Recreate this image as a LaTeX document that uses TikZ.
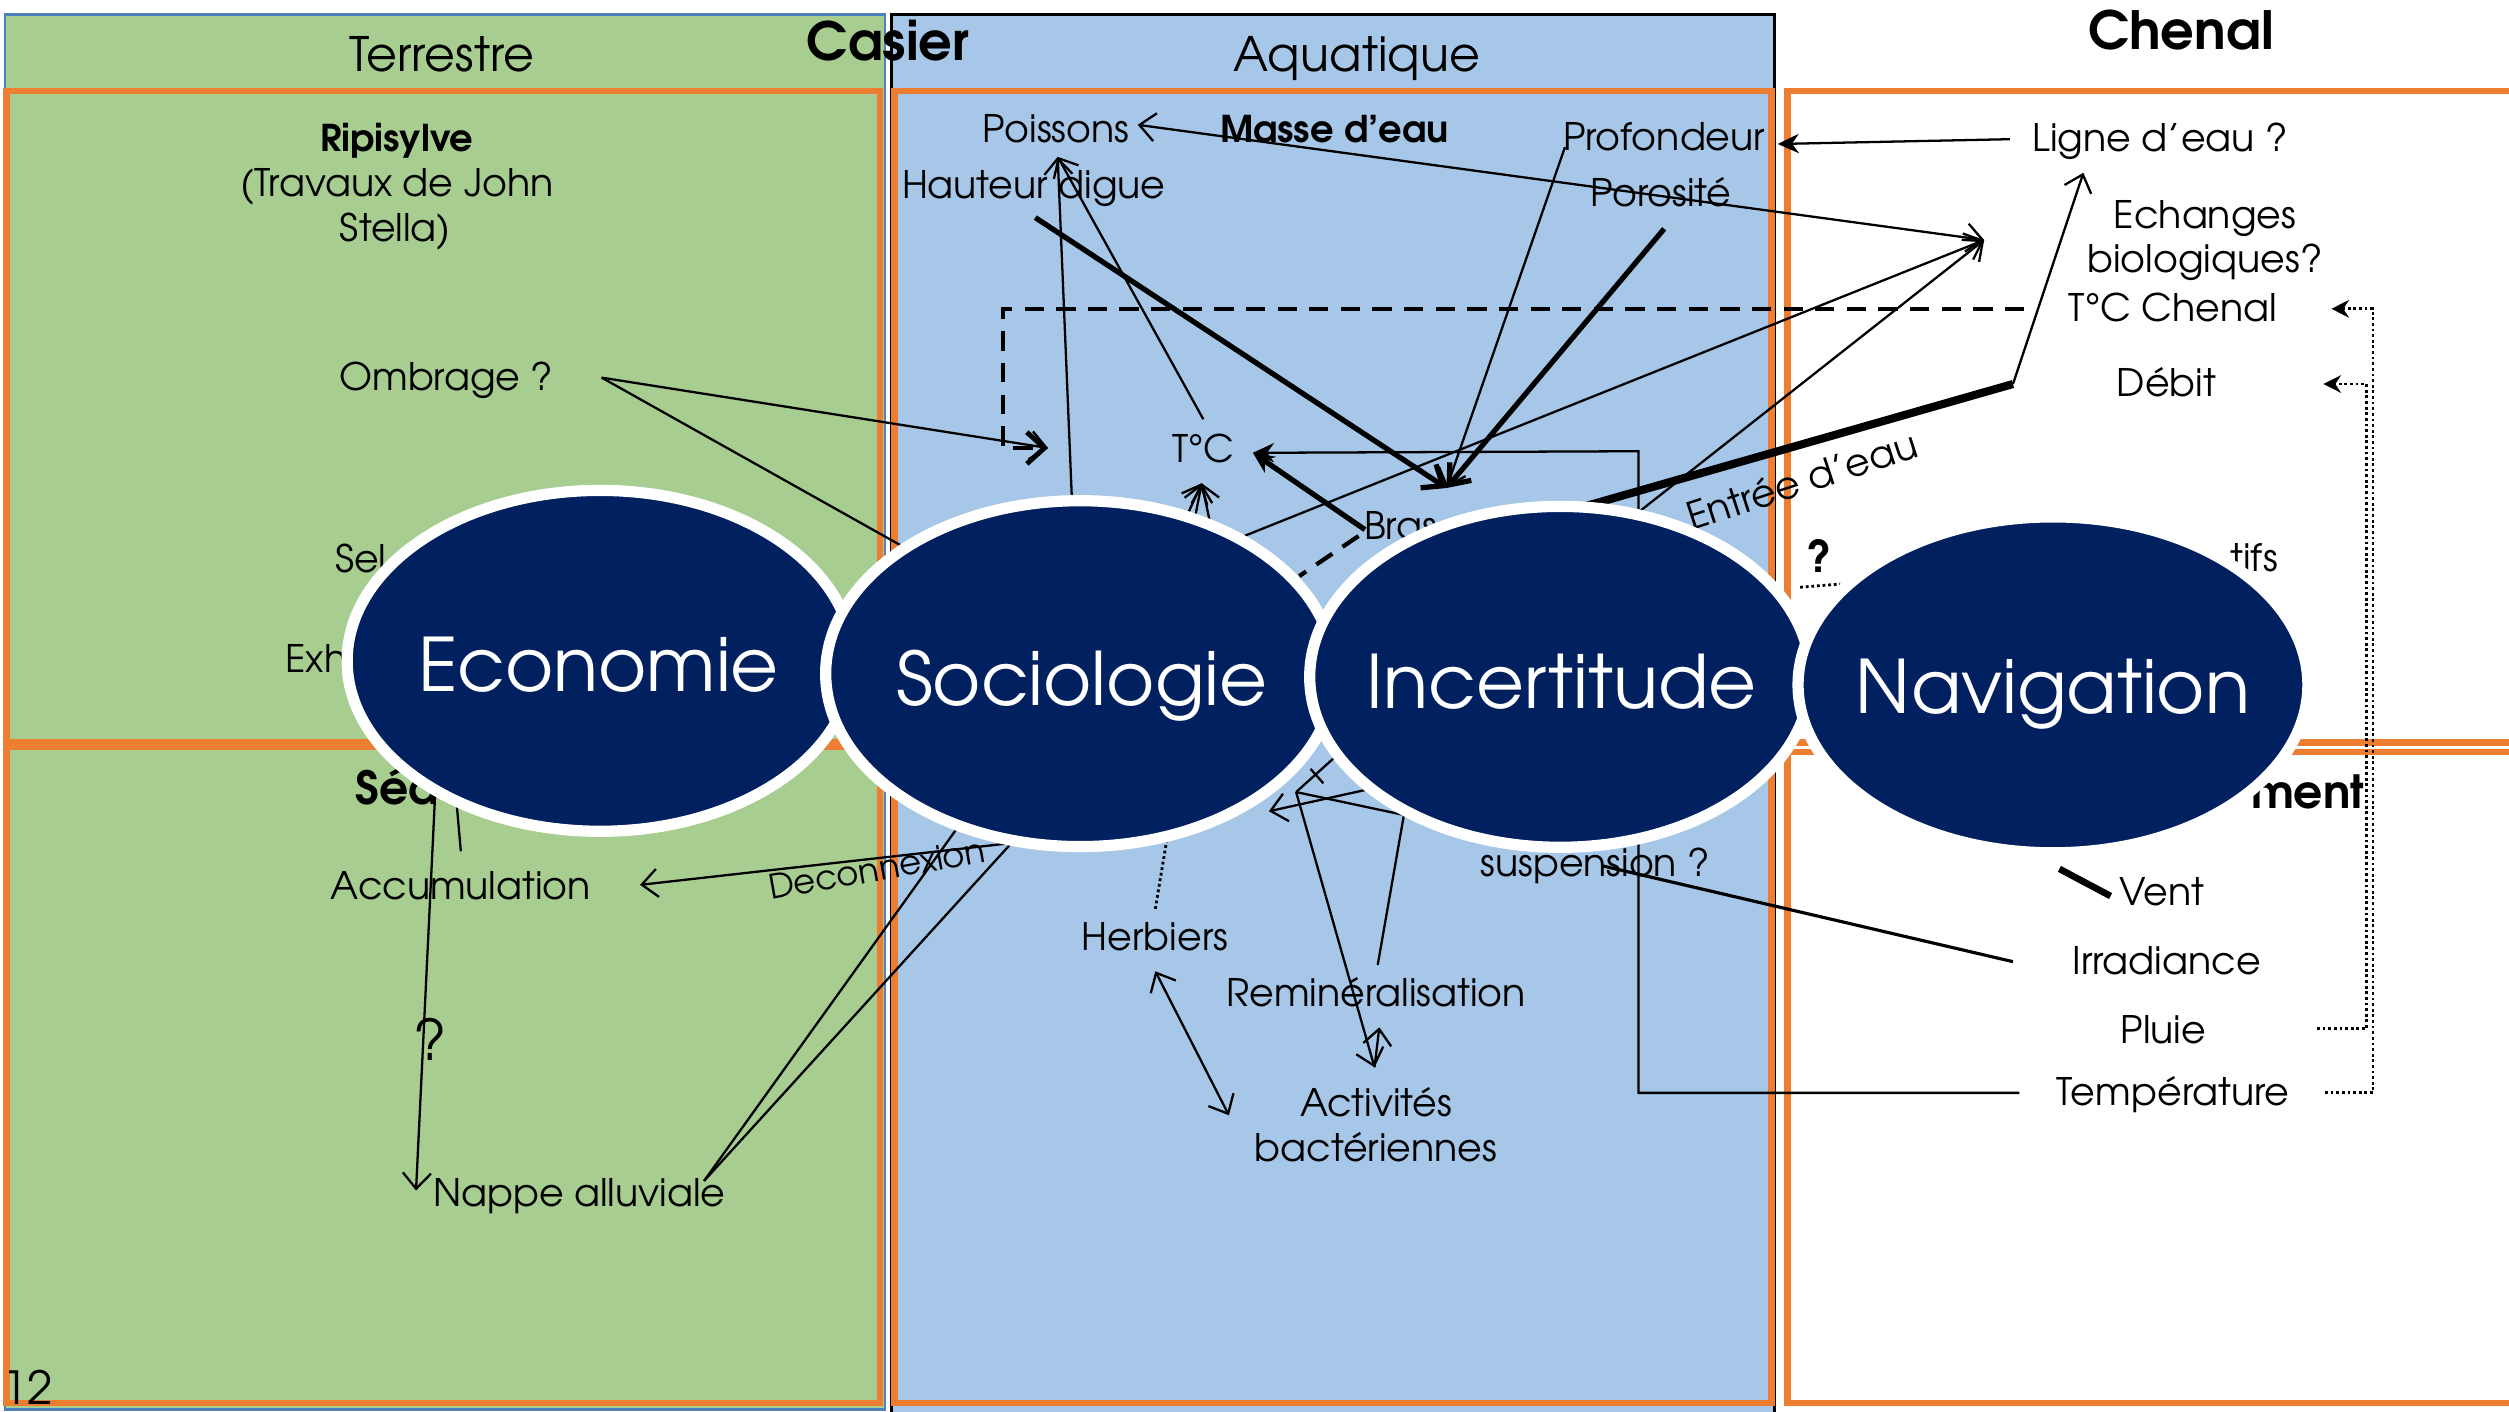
\documentclass[tikz,border=0pt]{standalone}
\usepackage{fontspec}
\setmainfont{texgyreadventor}[Extension=.otf,UprightFont=*-regular,BoldFont=*-bold,ItalicFont=*-italic,BoldItalicFont=*-bolditalic]
\usetikzlibrary{arrows.meta,shapes.geometric}
\definecolor{vert}{RGB}{168,205,144}
\definecolor{bleu}{RGB}{166,199,232}
\definecolor{orng}{RGB}{237,125,49}
\definecolor{navy}{RGB}{0,32,96}
\definecolor{gbord}{RGB}{79,129,189}
\newcommand\fbody{\fontsize{10.8}{13}\selectfont}
\newcommand\fbold{\fontsize{10.5}{13}\selectfont\bfseries}
\newcommand\fsect{\fontsize{13}{15}\selectfont\bfseries}
\newcommand\fhead{\fontsize{13.5}{16}\selectfont}
\newcommand\fbig{\fontsize{21}{24}\selectfont}
\newcommand\ftitle{\fontsize{15}{18}\selectfont\bfseries}
\tikzset{
  txt/.style={inner sep=0pt,font=\fbody,anchor=base,text=black},
  obox/.style={draw=orng,line width=1.8pt},
  bub/.style={ellipse,draw=white,line width=3.2pt,fill=navy,inner sep=0pt},
  bubtxt/.style={inner sep=0pt,font=\fbig,text=white,anchor=base},
  ln/.style={draw=black,line width=0.65pt},
  lnthick/.style={draw=black,line width=1.5pt},
  lnheavy/.style={draw=black,line width=2.3pt},
  dsh/.style={draw=black,line width=1.2pt,dash pattern=on 5.5pt off 3.5pt},
  dtt/.style={draw=black,line width=0.8pt,dash pattern=on 0.8pt off 0.8pt},
  ob/.tip={Straight Barb[length=4.5pt,width=8pt]},
  fs/.tip={Stealth[length=6pt,width=5.5pt]},
}
\begin{document}
\begin{tikzpicture}[x=0.016cm,y=-0.016cm]
\useasboundingbox (0,0) rectangle (1568,882);
\fill[white] (0,0) rectangle (1568,882);
% ---------- panels
\filldraw[fill=vert,draw=gbord,line width=0.7pt] (3,9) rectangle (553,881);
\filldraw[fill=bleu,draw=black,line width=0.7pt] (557,9) rectangle (1109,886);
\draw[obox] (4,57) rectangle (550,464);
\draw[obox] (4,467) rectangle (550,877);
\draw[obox] (559,57) rectangle (1107,877);
\draw[obox] (1117,57) rectangle (1585,464);
\draw[obox] (1117,470) rectangle (1585,877);
% ---------- headers
\node[txt,font=\fhead] (terr) at (276,45) {Terrestre};
\node[txt,font=\fhead] (aqua) at (848,45) {Aquatique};
\node[txt,font=\ftitle] (casier) at (555,38) {Casier};
\node[txt,font=\ftitle] (chenal) at (1363,31) {Chenal};
% ---------- terrestre texts
\node[txt,font=\fbold] (rip1) at (248,95) {Ripisylve};
\node[txt] (rip2) at (248,123) {(Travaux de John};
\node[txt] (rip3) at (247,151) {Stella)};
\node[txt] (ombr) at (279,244) {Ombrage ?};
\node[txt,anchor=base west] (sel) at (209,358) {Sel};
\node[txt,anchor=base west] (exh) at (178,420) {Exh};
\node[txt,font=\fsect,anchor=base west] (sed) at (222,503) {Séd};
\node[txt] (accu) at (288,562) {Accumulation};
\node[txt,font=\fontsize{16}{18}\selectfont] (qmark1) at (269,663) {?};
\node[txt] (nappe) at (362,754) {Nappe alluviale};
\node[txt,font=\fontsize{13}{15}\selectfont,anchor=base west] (num) at (1,878) {12};
\node[txt,font=\fontsize{9.6}{11}\selectfont,rotate=10,anchor=center] (decon) at (548,543) {Deconnexion};
% ---------- aquatique texts
\node[txt] (poiss) at (660,89) {Poissons};
\node[txt,font=\fbold] (masse) at (834,89) {Masse d’eau};
\node[txt] (prof) at (1040,94) {Profondeur};
\node[txt] (haut) at (646,124) {Hauteur digue};
\node[txt] (poro) at (1038,129) {Porosité};
\node[txt] (tc) at (752,289) {T°C};
\node[txt,anchor=base west] (bras) at (852,337) {Bras};
\node[txt] (herb) at (722,594) {Herbiers};
\node[txt] (remin) at (860,629) {Reminéralisation};
\node[txt] (activ1) at (860,698) {Activités};
\node[txt] (activ2) at (860,726) {bactériennes};
\node[txt] (susp) at (997,548) {suspension ?};
\node[txt,rotate=18,anchor=center] (entree) at (1126,300) {Entrée d’eau};
% ---------- chenal texts
\node[txt] (ligne) at (1350,95) {Ligne d’eau ?};
\node[txt] (ech1) at (1378,143) {Echanges};
\node[txt] (ech2) at (1378,170) {biologiques?};
\node[txt] (tcc) at (1358,201) {T°C Chenal};
\node[txt] (debit) at (1354,248) {Débit};
\node[txt,anchor=base east] (ifs) at (1424,357) {tifs};
\node[txt,font=\fsect,anchor=base east] (ment) at (1478,505) {ment};
\node[txt] (vent) at (1351,566) {Vent};
\node[txt] (irrad) at (1354,609) {Irradiance};
\node[txt] (pluie) at (1352,652) {Pluie};
\node[txt] (temp) at (1358,691) {Température};
\node[txt,font=\fontsize{12.5}{14}\selectfont\bfseries] (qmark2) at (1137,358) {?};
% ---------- connector points
\coordinate (ombA) at (376,236);
\coordinate (ombB) at (565,342);
\coordinate (tipD) at (655,280);
\coordinate (dA) at (1265,193);
\coordinate (dB) at (627,193);
\coordinate (dC) at (627,280);
\coordinate (poisE) at (711,78);
\coordinate (echT) at (1240,150);
\coordinate (socE1) at (760,342);
\coordinate (incE1) at (1000,339);
\coordinate (ligW) at (1256,87);
\coordinate (profE) at (1111,90);
\coordinate (entA) at (985,318);
\coordinate (entB) at (1258,240);
\coordinate (ligS) at (1302,108);
\coordinate (cv) at (904,305);
\coordinate (hautS) at (647,136);
\coordinate (profS) at (978,92);
\coordinate (poroS) at (1040,143);
\coordinate (tempW) at (1262,683);
\coordinate (tq1) at (1024,683);
\coordinate (tq2) at (1024,282);
\coordinate (tcE) at (783,283);
\coordinate (brasW) at (853,331);
\coordinate (brasD) at (849,335);
\coordinate (brasE) at (812,360);
\coordinate (tcS) at (751,302);
\coordinate (tcF1) at (736,335);
\coordinate (tcF2) at (744,338);
\coordinate (tcF3) at (758,335);
\coordinate (tcN) at (752,262);
\coordinate (poisS) at (661,98);
\coordinate (socP) at (670,315);
\coordinate (herbN) at (722,568);
\coordinate (socH) at (729,526);
\coordinate (herbS) at (722,607);
\coordinate (bactA) at (768,697);
\coordinate (reminN) at (861,603);
\coordinate (incR) at (879,500);
\coordinate (vtx) at (810,495);
\coordinate (actN) at (859,667);
\coordinate (remS) at (862,642);
\coordinate (jA) at (840,468);
\coordinate (tkA) at (827,489.5);
\coordinate (tkB) at (819,480.5);
\coordinate (incV) at (890,512);
\coordinate (incW) at (870,490);
\coordinate (arrW) at (793,507);
\coordinate (socD) at (640,526);
\coordinate (accuE) at (400,553);
\coordinate (napE) at (440,738);
\coordinate (socN1) at (600,515);
\coordinate (socN2) at (632,527);
\coordinate (ecoS1) at (272,495);
\coordinate (napW) at (260,744);
\coordinate (ecoS2) at (285,498);
\coordinate (accuN) at (288,532);
\coordinate (irrW) at (1258,601);
\coordinate (suspR) at (1001,541);
\coordinate (ventW) at (1319,560);
\coordinate (navV) at (1287,543);
\coordinate (qd1) at (1125,367);
\coordinate (qd2) at (1150,365);
\coordinate (tempE) at (1453,683);
\coordinate (r1a) at (1483,683);
\coordinate (r1b) at (1483,193);
\coordinate (tccE) at (1457,193);
\coordinate (pluieE) at (1448,643);
\coordinate (r2a) at (1479,643);
\coordinate (r2b) at (1479,240);
\coordinate (debitE) at (1452,240);
% ---------- connectors
\draw[ln,-{ob}] (ombA) -- (tipD);
\draw[ln] (ombA) -- (ombB);
\draw[dsh,-{Straight Barb[length=5pt,width=9pt,line width=1.4pt]}] (dA) -- (dB) -- (dC) -- (tipD);
\draw[ln,{ob}-{ob}] (poisE) -- (echT);
\draw[ln,-{ob}] (socE1) -- (echT);
\draw[ln,-{ob}] (incE1) -- (echT);
\draw[ln,-{fs}] (ligW) -- (profE);
\draw[lnheavy] (entA) -- (entB);
\draw[ln,-{ob}] (entB) -- (ligS);
\draw[lnthick,-{Straight Barb[length=5pt,width=8pt]}] (hautS) -- (cv);
\draw[ln,-{ob}] (profS) -- (cv);
\draw[lnthick,-{Straight Barb[length=5pt,width=8pt]}] (poroS) -- (cv);
\draw[ln,-{fs}] (tempW) -- (tq1) -- (tq2) -- (tcE);
\draw[lnthick,-{fs}] (brasW) -- (tcE);
\draw[dsh] (brasD) -- (brasE);
\draw[ln,-{ob}] (tcF1) -- (tcS);
\draw[ln,-{ob}] (tcF2) -- (tcS);
\draw[ln,-{ob}] (tcF3) -- (tcS);
\draw[ln,-{ob}] (tcN) -- (poisS);
\draw[ln,-{ob}] (socP) -- (poisS);
\draw[dtt] (herbN) -- (socH);
\draw[ln,{ob}-{ob}] (herbS) -- (bactA);
\draw[ln] (reminN) -- (incR);
\draw[ln,-{ob}] (vtx) -- (actN);
\draw[ln,-{ob}] (actN) -- (remS);
\draw[ln] (jA) -- (vtx);
\draw[ln] (tkA) -- (tkB);
\draw[ln] (vtx) -- (incV);
\draw[ln,-{ob}] (incW) -- (arrW);
\draw[ln,-{ob}] (socD) -- (accuE);
\draw[ln] (napE) -- (socN1);
\draw[ln] (napE) -- (socN2);
\draw[ln,-{ob}] (ecoS1) -- (napW);
\draw[ln] (ecoS2) -- (accuN);
\draw[ln,line width=0.9pt] (irrW) -- (suspR);
\draw[lnheavy,line width=1.9pt] (navV) -- (ventW);
\draw[dtt] (qd1) -- (qd2);
\draw[dtt,-{Stealth[length=5pt,width=5pt]}] (tempE) -- (r1a) -- (r1b) -- (tccE);
\draw[dtt,-{Stealth[length=5pt,width=5pt]}] (pluieE) -- (r2a) -- (r2b) -- (debitE);
% ---------- bubbles
\node[bub,minimum width=5.06cm,minimum height=3.41cm] (eco) at (375,413) {};
\node[bubtxt] (ecot) at (374,432) {Economie};
\node[bub,minimum width=5.09cm,minimum height=3.46cm] (soc) at (675,421) {};
\node[bubtxt] (soct) at (676,441) {Sociologie};
\node[bub,minimum width=5.01cm,minimum height=3.41cm] (inc) at (975,423) {};
\node[bubtxt] (inct) at (976,443) {Incertitude};
\node[bub,minimum width=5.10cm,minimum height=3.36cm] (nav) at (1283,428) {};
\node[bubtxt] (navt) at (1283,446) {Navigation};
\end{tikzpicture}
\end{document}
